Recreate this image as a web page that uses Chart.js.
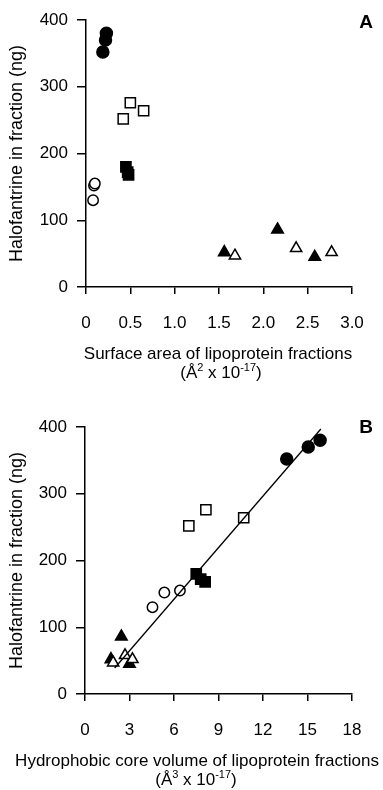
<!DOCTYPE html>
<html>
<head>
<meta charset="utf-8">
<script src="https://cdn.jsdelivr.net/npm/chart.js@4.4.1/dist/chart.umd.min.js"></script>
<style>
  body { margin: 0; background: #fff; }
  canvas { position: absolute; left: 0; }
  #chart-a { top: 0; }
  #chart-b { top: 395px; }
</style>
</head>
<body>
<canvas id="chart-a" width="383" height="395"></canvas>
<canvas id="chart-b" width="383" height="395"></canvas>
<script>
// Halofantrine per fraction (ng), one triple per lipoprotein group
const yFilledCircle = [352, 370, 380];
const yOpenSquare = [252, 276, 264];
const yFilledSquare = [180, 172, 168];
const yOpenCircle = [130, 152, 155];
const yFilledTri = [52, 86, 45];
const yOpenTri = [47, 58, 52];

// Panel A: surface area (A^2 x 10^-17)
const areaFilledCircle = [0.19, 0.22, 0.23];
const areaOpenSquare = [0.42, 0.50, 0.65];
const areaFilledSquare = [0.45, 0.47, 0.48];
const areaOpenCircle = [0.08, 0.09, 0.10];
const areaFilledTri = [1.56, 2.16, 2.58];
const areaOpenTri = [1.68, 2.37, 2.77];

// Panel B: core volume (A^3 x 10^-17)
const volFilledCircle = [13.6, 15.05, 15.85];
const volOpenSquare = [7.0, 8.15, 10.7];
const volFilledSquare = [7.5, 7.8, 8.1];
const volOpenCircle = [4.55, 5.35, 6.4];
const volFilledTri = [1.75, 2.45, 3.0];
const volOpenTri = [1.9, 2.7, 3.2];

// regression line ends
const fitX = [2.0, 15.9];
const fitY = [39, 397];

const xTicksA = ['0', '0.5', '1.0', '1.5', '2.0', '2.5', '3.0'];
const xTicksB = ['0', '3', '6', '9', '12', '15', '18'];
const yTicks = ['0', '100', '200', '300', '400'];

const FONT = 'Arial, "Liberation Sans", sans-serif';

function pts(xs, ys) {
    return xs.map((x, i) => ({ x: x, y: ys[i] }));
}

function markers(xs, ys, style, filled, radius) {
    return {
        type: 'scatter',
        data: pts(xs, ys),
        pointStyle: style,
        pointRadius: radius,
        pointHoverRadius: radius,
        pointBackgroundColor: filled ? '#000' : '#fff',
        pointBorderColor: '#000',
        pointBorderWidth: 1.5
    };
}

function groups(f) {
    return [
        markers(f.oc, yOpenCircle, 'circle', false, 5.2),
        markers(f.ot, yOpenTri, 'triangle', false, 6.5),
        markers(f.fc, yFilledCircle, 'circle', true, 6),
        markers(f.os, yOpenSquare, 'rect', false, 7.2),
        markers(f.fs, yFilledSquare, 'rect', true, 7.2),
        markers(f.ft, yFilledTri, 'triangle', true, 6.7)
    ];
}

// panel letter + two-line x title with superscripts
const notes = {
    id: 'notes',
    afterDraw(chart, args, opts) {
        const ctx = chart.ctx;
        ctx.save();
        ctx.fillStyle = '#000';
        ctx.textAlign = 'center';
        ctx.textBaseline = 'middle';
        ctx.font = 'bold 19px ' + FONT;
        ctx.fillText(opts.letter, opts.letterX, opts.letterY);

        ctx.font = '17px ' + FONT;
        ctx.fillText(opts.title, opts.titleX, opts.titleY);

        // "(Å^n x 10^-17)"
        const parts = [['(Å', false], [opts.power, true], [' x 10', false], ['-17', true], [')', false]];
        const size = 17, sup = 11;
        let total = 0;
        parts.forEach(p => {
            ctx.font = (p[1] ? sup : size) + 'px ' + FONT;
            total += ctx.measureText(p[0]).width;
        });
        let x = opts.unitX - total / 2;
        const base = opts.unitY + 6;
        ctx.textAlign = 'left';
        ctx.textBaseline = 'alphabetic';
        parts.forEach(p => {
            ctx.font = (p[1] ? sup : size) + 'px ' + FONT;
            ctx.fillText(p[0], x, p[1] ? base - 7 : base);
            x += ctx.measureText(p[0]).width;
        });
        ctx.restore();
    }
};

function makeChart(id, datasets, xMax, xStep, xLabels, padTop, note) {
    const axisColor = '#000';
    new Chart(document.getElementById(id), {
        data: { datasets: datasets },
        options: {
            responsive: false,
            animation: false,
            layout: { padding: { top: padTop, right: 31, left: 0, bottom: 0 } },
            plugins: {
                legend: { display: false },
                tooltip: { enabled: false },
                notes: note
            },
            scales: {
                x: {
                    type: 'linear',
                    min: 0,
                    max: xMax,
                    afterFit: s => { s.height = 395 - padTop - 267; },
                    ticks: {
                        stepSize: xStep,
                        color: '#000',
                        padding: 19,
                        font: { size: 17, family: FONT },
                        callback: (v, i) => xLabels[i]
                    },
                    grid: { drawOnChartArea: false, tickLength: 7, color: axisColor, lineWidth: 1.5 },
                    border: { color: axisColor, width: 1.5 }
                },
                y: {
                    min: 0,
                    max: 400,
                    afterFit: s => { s.width = id === 'chart-a' ? 86 : 85; },
                    ticks: {
                        stepSize: 100,
                        color: '#000',
                        padding: 9,
                        font: { size: 17, family: FONT },
                        callback: (v, i) => yTicks[i]
                    },
                    grid: { drawOnChartArea: false, tickLength: 9, color: axisColor, lineWidth: 1.5 },
                    border: { color: axisColor, width: 1.5 },
                    title: {
                        display: true,
                        text: 'Halofantrine in fraction (ng)',
                        color: '#000',
                        font: { size: 18, family: FONT },
                        padding: { top: 6 }
                    }
                }
            }
        },
        plugins: [notes]
    });
}

makeChart('chart-a', groups({
    fc: areaFilledCircle, os: areaOpenSquare, fs: areaFilledSquare,
    oc: areaOpenCircle, ft: areaFilledTri, ot: areaOpenTri
}), 3.0, 0.5, xTicksA, 20, {
    letter: 'A', letterX: 366, letterY: 23,
    title: 'Surface area of lipoprotein fractions', titleX: 218, titleY: 354,
    power: '2', unitX: 221, unitY: 372
});

const fitLine = {
    type: 'line',
    data: pts(fitX, fitY),
    borderColor: '#000',
    borderWidth: 1.3,
    pointRadius: 0,
    fill: false
};

makeChart('chart-b', [fitLine].concat(groups({
    fc: volFilledCircle, os: volOpenSquare, fs: volFilledSquare,
    oc: volOpenCircle, ft: volFilledTri, ot: volOpenTri
})), 18, 3, xTicksB, 32, {
    letter: 'B', letterX: 366, letterY: 33,
    title: 'Hydrophobic core volume of lipoprotein fractions', titleX: 197, titleY: 366,
    power: '3', unitX: 196, unitY: 384
});
</script>
</body>
</html>
